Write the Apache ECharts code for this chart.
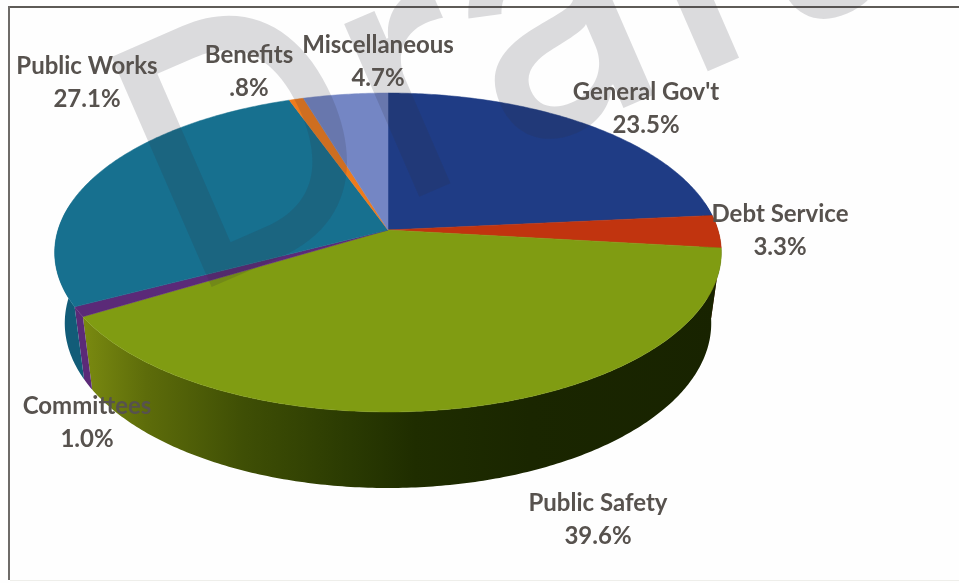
<!DOCTYPE html>
<html>
<head>
<meta charset="utf-8">
<style>
  html, body { margin: 0; padding: 0; background: #fff; }
  #chart { width: 959px; height: 583px; }
</style>
<script src="https://cdn.jsdelivr.net/npm/echarts@6/dist/echarts.min.js"></script>
</head>
<body>
<div id="chart"></div>
<script>
// Budget shares by department, clockwise from twelve o'clock.
const categories = ["General Gov't", 'Debt Service', 'Public Safety', 'Committees', 'Public Works', 'Benefits', 'Miscellaneous'];
const shares = [23.5, 3.3, 39.6, 1.0, 27.1, 0.8, 4.7];
const shareLabels = ['23.5%', '3.3%', '39.6%', '1.0%', '27.1%', '.8%', '4.7%'];

const topColors = ['#1f3c85', '#c1340f', '#809c12', '#5b2a78', '#17708f', '#ee7b1c', '#7486c4'];
const wallColors = ['#101f48', '#5a1a08', null, '#5b2a78', '#125c78', '#8a4710', '#3c4670'];
const labelAnchors = [[646, 92], [780, 214], [598, 503], [87, 406], [87, 66], [249, 55], [378, 45]];

// Perspective model of the disc: the rim is a circle seen from above and in front.
const topRing = { cx: 388, cy: 230, a: 330, b: 156.3, k: 0.141 };
const bottomRing = { cx: 388, cy: 300, a: 320, b: 161.5, k: 0.141 };
const total = shares.reduce((s, v) => s + v, 0);

function project(ring, deg) {
  const t = deg * Math.PI / 180;
  const u = Math.sin(t);
  const v = -Math.cos(t);
  const d = 1 - ring.k * v;
  return [ring.cx + ring.a * u / d, ring.cy + ring.b * v / d];
}
function arc(ring, from, to) {
  const steps = Math.max(2, Math.ceil(Math.abs(to - from) * 1.5));
  const pts = [];
  for (let i = 0; i <= steps; i++) pts.push(project(ring, from + (to - from) * i / steps));
  return pts;
}

const starts = [];
shares.reduce((acc, v, i) => { starts[i] = acc; return acc + v; }, 0);
const sliceData = shares.map((v, i) => ({
  value: [starts[i] / total * 360, (starts[i] + v) / total * 360, i]
}));

const safetyWall = new echarts.graphic.LinearGradient(0, 0, 1, 0, [
  { offset: 0, color: '#7a8a10' },
  { offset: 0.1, color: '#5d6c0a' },
  { offset: 0.25, color: '#3f4f05' },
  { offset: 0.42, color: '#2a3a02' },
  { offset: 0.52, color: '#1f2d00' },
  { offset: 0.7, color: '#1a2600' },
  { offset: 1, color: '#182300' }
]);

function renderWall(params, api) {
  const from = Math.max(api.value(0), 80);
  const to = Math.min(api.value(1), 280);
  if (to <= from) return null;
  const i = api.value(2);
  const pts = arc(topRing, from, to).concat(arc(bottomRing, to, from));
  return { type: 'polygon', shape: { points: pts }, style: { fill: wallColors[i] || safetyWall } };
}
function renderTop(params, api) {
  const i = api.value(2);
  const pts = [[topRing.cx, topRing.cy]].concat(arc(topRing, api.value(0), api.value(1)));
  return { type: 'polygon', shape: { points: pts }, style: { fill: topColors[i], stroke: topColors[i], lineWidth: 0.5 } };
}
function renderLabel(params, api) {
  const i = api.value(2);
  const [x, y] = labelAnchors[i];
  const font = 'bold 24px Lato, sans-serif';
  return {
    type: 'group',
    children: [
      { type: 'text', style: { text: categories[i], x: x, y: y, align: 'center', verticalAlign: 'middle', font: font, fill: '#57524e' } },
      { type: 'text', style: { text: shareLabels[i], x: x, y: y + 33, align: 'center', verticalAlign: 'middle', font: font, fill: '#57524e' } }
    ]
  };
}

const chart = echarts.init(document.getElementById('chart'), null, { renderer: 'canvas' });
chart.setOption({
  animation: false,
  backgroundColor: '#fefefe',
  graphic: [
    { type: 'rect', z: 1, shape: { x: 8, y: 6, width: 951, height: 2 }, style: { fill: '#5e5b57' } },
    { type: 'rect', z: 1, shape: { x: 8, y: 6, width: 2, height: 574 }, style: { fill: '#6e6b68' } },
    { type: 'rect', z: 1, shape: { x: 10, y: 580, width: 949, height: 1 }, style: { fill: '#eeeeea' } },
    {
      type: 'text', z: 3, x: 78, y: 44, rotation: 23.5 * Math.PI / 180, scaleX: 0.92, scaleY: 1,
      style: { text: 'Draft', font: '500 345px Inter, sans-serif', fill: 'rgba(50,50,60,0.17)', align: 'left', verticalAlign: 'top' }
    }
  ],
  series: [
    { type: 'custom', coordinateSystem: 'none', z: 2, renderItem: renderWall, data: sliceData, silent: true },
    { type: 'custom', coordinateSystem: 'none', z: 2, renderItem: renderTop, data: sliceData, silent: true },
    { type: 'custom', coordinateSystem: 'none', z: 5, renderItem: renderLabel, data: sliceData, silent: true }
  ]
});
</script>
</body>
</html>
